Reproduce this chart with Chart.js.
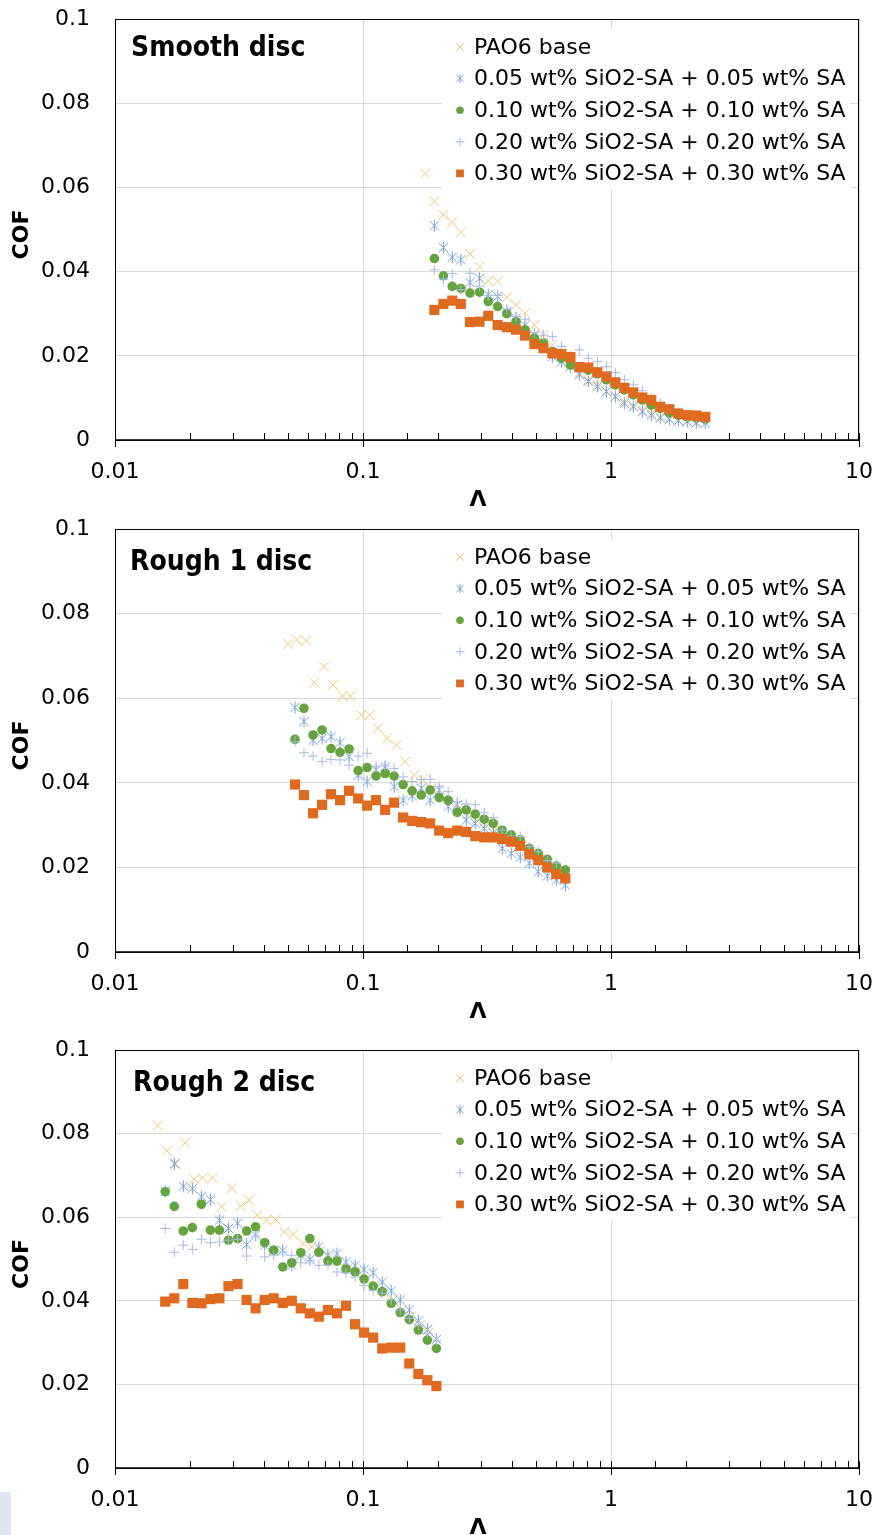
<!DOCTYPE html>
<html lang="en">
<head>
<meta charset="UTF-8">
<title>COF against lambda ratio</title>
<style>
  html, body { margin: 0; padding: 0; background: #fff; overflow: hidden; }
  canvas.panel { position: absolute; left: 0; }
  #p1 { top: 0; }
  #p2 { top: 510px; }
  #p3 { top: 1031px; }
  .corner { position: absolute; left: 0; top: 1492px; width: 11px; height: 43px; background: #dde6f1; }
</style>
</head>
<body>
<canvas id="p1" class="panel" width="877" height="520"></canvas>
<canvas id="p2" class="panel" width="877" height="522"></canvas>
<canvas id="p3" class="panel" width="877" height="517"></canvas>
<div class="corner"></div>
<script src="https://cdn.jsdelivr.net/npm/chart.js"></script>
<script>
// series names
const seriesLabels = [
    'PAO6 base',
    '0.05 wt% SiO2-SA + 0.05 wt% SA',
    '0.10 wt% SiO2-SA + 0.10 wt% SA',
    '0.20 wt% SiO2-SA + 0.20 wt% SA',
    '0.30 wt% SiO2-SA + 0.30 wt% SA'
];
const xTickLabels = ['0.01', '0.1', '1', '10'];
const yTicks = [0, 0.02, 0.04, 0.06, 0.08, 0.1];

// Smooth disc
const lamSmoothBase = [0.178, 0.194, 0.211, 0.229, 0.248, 0.270, 0.295, 0.320, 0.349, 0.380, 0.414, 0.450, 0.491, 0.534, 0.580, 0.631, 0.686, 0.745, 0.810, 0.881, 0.958, 1.041, 1.132, 1.230, 1.338, 1.454, 1.580, 1.719, 1.868, 2.031, 2.208];
const lamSmooth = [0.194, 0.211, 0.229, 0.248, 0.270, 0.295, 0.320, 0.349, 0.380, 0.414, 0.450, 0.491, 0.534, 0.580, 0.631, 0.686, 0.745, 0.810, 0.881, 0.958, 1.041, 1.132, 1.230, 1.338, 1.454, 1.580, 1.719, 1.868, 2.031, 2.208, 2.401];
const cofSmoothBase = [0.0633, 0.0567, 0.0535, 0.0517, 0.0493, 0.0442, 0.0411, 0.0378, 0.0377, 0.0339, 0.0321, 0.0301, 0.0273, 0.0250, 0.0226, 0.0206, 0.0182, 0.0159, 0.0143, 0.0131, 0.0115, 0.0103, 0.0091, 0.0081, 0.0071, 0.0063, 0.0055, 0.0049, 0.0046, 0.0044, 0.0041];
const cofSmooth005 = [0.0509, 0.0457, 0.0434, 0.0428, 0.0374, 0.0384, 0.0345, 0.0341, 0.0305, 0.0289, 0.0273, 0.0250, 0.0230, 0.0198, 0.0186, 0.0174, 0.0155, 0.0139, 0.0127, 0.0115, 0.0103, 0.0087, 0.0079, 0.0067, 0.0059, 0.0052, 0.0049, 0.0046, 0.0044, 0.0041, 0.0040];
const cofSmooth010 = [0.0431, 0.0390, 0.0365, 0.0360, 0.0349, 0.0351, 0.0329, 0.0317, 0.0300, 0.0281, 0.0262, 0.0242, 0.0230, 0.0210, 0.0194, 0.0178, 0.0174, 0.0166, 0.0157, 0.0143, 0.0131, 0.0119, 0.0107, 0.0095, 0.0083, 0.0075, 0.0065, 0.0059, 0.0055, 0.0052, 0.0049];
const cofSmooth020 = [0.0404, 0.0382, 0.0395, 0.0357, 0.0396, 0.0365, 0.0343, 0.0343, 0.0311, 0.0293, 0.0287, 0.0255, 0.0249, 0.0246, 0.0222, 0.0200, 0.0214, 0.0194, 0.0186, 0.0174, 0.0160, 0.0143, 0.0131, 0.0117, 0.0099, 0.0087, 0.0075, 0.0063, 0.0055, 0.0052, 0.0044];
const cofSmooth030 = [0.0309, 0.0323, 0.0331, 0.0323, 0.0280, 0.0281, 0.0295, 0.0273, 0.0268, 0.0262, 0.0248, 0.0228, 0.0218, 0.0206, 0.0204, 0.0197, 0.0173, 0.0172, 0.0161, 0.0151, 0.0137, 0.0124, 0.0113, 0.0101, 0.0095, 0.0079, 0.0073, 0.0063, 0.0059, 0.0058, 0.0055];

// Rough 1 disc
const lamRough1Base = [0.0500, 0.0540, 0.0589, 0.0636, 0.0696, 0.0758, 0.0826, 0.0890, 0.0985, 0.1063, 0.1148, 0.1252, 0.1365, 0.1478, 0.1611, 0.1740, 0.1891, 0.2055, 0.2233, 0.2427, 0.2637, 0.2866, 0.3114, 0.3384, 0.3677, 0.3996, 0.4342, 0.4719, 0.5128, 0.5572, 0.6055];
const lamRough1 = [0.0532, 0.0578, 0.0629, 0.0684, 0.0743, 0.0808, 0.0879, 0.0956, 0.1039, 0.1129, 0.1228, 0.1335, 0.1451, 0.1578, 0.1716, 0.1865, 0.2028, 0.2205, 0.2398, 0.2607, 0.2835, 0.3082, 0.3350, 0.3642, 0.3960, 0.4305, 0.4681, 0.5089, 0.5534, 0.6016, 0.6541];
const cofRough1Base = [0.0728, 0.0738, 0.0736, 0.0637, 0.0675, 0.0631, 0.0605, 0.0605, 0.0560, 0.0560, 0.0529, 0.0505, 0.0489, 0.0450, 0.0418, 0.0407, 0.0387, 0.0371, 0.0355, 0.0340, 0.0324, 0.0312, 0.0300, 0.0287, 0.0273, 0.0261, 0.0249, 0.0237, 0.0224, 0.0210, 0.0195];
const cofRough1005 = [0.0578, 0.0545, 0.0501, 0.0505, 0.0509, 0.0495, 0.0462, 0.0418, 0.0403, 0.0430, 0.0438, 0.0391, 0.0359, 0.0369, 0.0387, 0.0359, 0.0383, 0.0344, 0.0348, 0.0312, 0.0304, 0.0292, 0.0281, 0.0245, 0.0233, 0.0224, 0.0210, 0.0190, 0.0180, 0.0170, 0.0158];
const cofRough1010 = [0.0503, 0.0576, 0.0513, 0.0525, 0.0481, 0.0472, 0.0480, 0.0429, 0.0436, 0.0416, 0.0422, 0.0416, 0.0396, 0.0381, 0.0371, 0.0383, 0.0365, 0.0359, 0.0330, 0.0336, 0.0326, 0.0314, 0.0304, 0.0288, 0.0277, 0.0265, 0.0245, 0.0233, 0.0219, 0.0203, 0.0194];
const cofRough1020 = [0.0497, 0.0471, 0.0463, 0.0450, 0.0455, 0.0454, 0.0442, 0.0463, 0.0470, 0.0438, 0.0440, 0.0434, 0.0414, 0.0403, 0.0408, 0.0408, 0.0391, 0.0379, 0.0355, 0.0350, 0.0348, 0.0329, 0.0318, 0.0288, 0.0274, 0.0273, 0.0249, 0.0237, 0.0216, 0.0210, 0.0174];
const cofRough1030 = [0.0396, 0.0371, 0.0328, 0.0348, 0.0373, 0.0359, 0.0381, 0.0363, 0.0346, 0.0359, 0.0336, 0.0353, 0.0318, 0.0310, 0.0307, 0.0304, 0.0287, 0.0281, 0.0287, 0.0284, 0.0274, 0.0271, 0.0271, 0.0267, 0.0261, 0.0251, 0.0231, 0.0217, 0.0200, 0.0184, 0.0174];

// Rough 2 disc
const lamRough2Base = [0.01485, 0.01619, 0.01759, 0.01918, 0.02084, 0.02252, 0.02470, 0.02694, 0.02954, 0.03210, 0.03468, 0.03748, 0.04086, 0.04442, 0.04827, 0.05231, 0.05737, 0.06197, 0.06737, 0.07318, 0.07980, 0.08675, 0.09460, 0.1028, 0.1117, 0.1214, 0.1320, 0.1439, 0.1564, 0.1700, 0.1848];
const lamRough2 = [0.01594, 0.01734, 0.01885, 0.02050, 0.02230, 0.02425, 0.02637, 0.02868, 0.03119, 0.03392, 0.03690, 0.04013, 0.04363, 0.04746, 0.05161, 0.05613, 0.06104, 0.06638, 0.07220, 0.07851, 0.08539, 0.09292, 0.1010, 0.1099, 0.1195, 0.1300, 0.1413, 0.1537, 0.1672, 0.1818, 0.1977];
const cofRough2Base = [0.0820, 0.0759, 0.0728, 0.0778, 0.0691, 0.0694, 0.0694, 0.0625, 0.0669, 0.0626, 0.0641, 0.0605, 0.0593, 0.0594, 0.0565, 0.0559, 0.0537, 0.0529, 0.0521, 0.0505, 0.0493, 0.0477, 0.0465, 0.0451, 0.0435, 0.0418, 0.0402, 0.0379, 0.0362, 0.0342, 0.0324];
const cofRough2005 = [0.0662, 0.0728, 0.0674, 0.0669, 0.0649, 0.0642, 0.0593, 0.0573, 0.0586, 0.0535, 0.0557, 0.0533, 0.0521, 0.0520, 0.0485, 0.0509, 0.0499, 0.0529, 0.0509, 0.0513, 0.0493, 0.0485, 0.0475, 0.0467, 0.0445, 0.0424, 0.0402, 0.0378, 0.0352, 0.0331, 0.0308];
const cofRough2010 = [0.0661, 0.0626, 0.0567, 0.0575, 0.0631, 0.0569, 0.0569, 0.0545, 0.0549, 0.0567, 0.0577, 0.0539, 0.0521, 0.0481, 0.0491, 0.0515, 0.0549, 0.0516, 0.0495, 0.0495, 0.0476, 0.0469, 0.0452, 0.0435, 0.0422, 0.0394, 0.0372, 0.0355, 0.0330, 0.0306, 0.0286];
const cofRough2020 = [0.0573, 0.0516, 0.0533, 0.0523, 0.0547, 0.0539, 0.0541, 0.0545, 0.0547, 0.0507, 0.0555, 0.0505, 0.0509, 0.0517, 0.0509, 0.0491, 0.0497, 0.0485, 0.0485, 0.0469, 0.0467, 0.0457, 0.0437, 0.0425, 0.0418, 0.0402, 0.0378, 0.0358, 0.0342, 0.0322, 0.0304];
const cofRough2030 = [0.0398, 0.0406, 0.0440, 0.0395, 0.0394, 0.0404, 0.0406, 0.0435, 0.0440, 0.0402, 0.0382, 0.0402, 0.0406, 0.0395, 0.0400, 0.0382, 0.0370, 0.0362, 0.0378, 0.0370, 0.0388, 0.0344, 0.0324, 0.0312, 0.0286, 0.0288, 0.0288, 0.0250, 0.0225, 0.0210, 0.0196];

const FONT = "'DejaVu Sans', sans-serif";
const COND = "'DejaVu Sans Condensed', 'DejaVu Sans', sans-serif";
const colors = ['#F2C46E', '#6F9FD8', '#67A33F', '#A7BAE4', '#E06A1F'];

// asterisk marker: an x with a vertical stroke
function asterisk(color, r) {
    const c = document.createElement('canvas');
    const s = Math.ceil(r * 2 + 3);
    c.width = c.height = s;
    const g = c.getContext('2d');
    const m = s / 2, d = r * 0.78;
    g.strokeStyle = color;
    g.lineWidth = 1;
    g.beginPath();
    g.moveTo(m - d, m - d); g.lineTo(m + d, m + d);
    g.moveTo(m - d, m + d); g.lineTo(m + d, m - d);
    g.moveTo(m, m - r); g.lineTo(m, m + r);
    g.stroke();
    return c;
}
const starBig = asterisk(colors[1], 6);
const starSmall = asterisk(colors[1], 4.5);

const markers = [
    { pointStyle: 'crossRot', radius: 7, legendRadius: 5.5, borderWidth: 1 },
    { pointStyle: starBig, legendStyle: starSmall, radius: 6, legendRadius: 5, borderWidth: 1 },
    { pointStyle: 'circle', radius: 4.8, legendRadius: 3.8, borderWidth: 0 },
    { pointStyle: 'cross', radius: 5, legendRadius: 4.5, borderWidth: 1 },
    { pointStyle: 'rect', radius: 7.2, legendRadius: 5.5, borderWidth: 0 }
];

function isDecade(v) {
    const l = Math.log10(v);
    return Math.abs(l - Math.round(l)) < 1e-6;
}

function points(xs, ys) {
    return xs.map((x, i) => ({ x: x, y: ys[i] }));
}

function buildDatasets(lamBase, lamMix, cofs) {
    return cofs.map((ys, i) => ({
        label: seriesLabels[i],
        data: points(i === 0 ? lamBase : lamMix, ys),
        pointStyle: markers[i].pointStyle,
        pointRadius: markers[i].radius,
        pointBorderWidth: markers[i].borderWidth,
        pointBackgroundColor: colors[i],
        pointBorderColor: colors[i],
        showLine: false,
        order: 5 - i
    }));
}

// frame, log ticks, legend box, panel title and axis titles
const panelDecor = {
    id: 'panelDecor',
    afterDatasetsDraw(chart, args, opts) {
        const { ctx, chartArea: a } = chart;
        const xs = chart.scales.x;
        ctx.save();

        // legend
        ctx.fillStyle = '#fff';
        ctx.fillRect(442, a.top + 10.5, 408, 160);
        ctx.font = '22px ' + FONT;
        ctx.textBaseline = 'middle';
        ctx.textAlign = 'left';
        chart.data.datasets.forEach((ds, i) => {
            const y = a.top + 28 + i * 31.6;
            ctx.fillStyle = colors[i];
            ctx.strokeStyle = colors[i];
            ctx.lineWidth = 1;
            Chart.helpers.drawPoint(ctx, {
                pointStyle: markers[i].legendStyle || markers[i].pointStyle,
                rotation: 0,
                radius: markers[i].legendRadius,
                borderWidth: markers[i].borderWidth
            }, 460, y);
            ctx.fillStyle = '#000';
            ctx.fillText(ds.label, 474, y + 1);
        });

        // plot frame
        ctx.strokeStyle = '#000';
        ctx.lineWidth = 1;
        ctx.strokeRect(a.left + 0.5, a.top + 0.5, a.right - a.left - 1, a.bottom - a.top);
        ctx.lineWidth = 1.5;
        ctx.beginPath();
        ctx.moveTo(a.left, a.bottom);
        ctx.lineTo(a.right, a.bottom);
        ctx.stroke();

        // major and minor tick marks on the log axis
        ctx.lineWidth = 1;
        ctx.beginPath();
        xs.ticks.forEach(t => {
            const px = Math.round(xs.getPixelForValue(t.value)) + 0.5;
            ctx.moveTo(px, a.bottom - 7);
            ctx.lineTo(px, a.bottom + (isDecade(t.value) ? 7 : 0));
        });
        ctx.stroke();

        // panel title
        ctx.fillStyle = '#000';
        ctx.font = 'bold 28px ' + COND;
        ctx.textBaseline = 'alphabetic';
        ctx.fillText(opts.title, opts.titleX, a.top + opts.titleDy);

        // axis titles
        ctx.font = 'bold 22px ' + FONT;
        ctx.textAlign = 'center';
        ctx.textBaseline = 'middle';
        ctx.fillText('\u039B', 478, a.bottom + 60);
        ctx.translate(22, (a.top + a.bottom) / 2 + 5);
        ctx.rotate(-Math.PI / 2);
        ctx.fillText('COF', 0, 0);
        ctx.restore();
    }
};

function makePanel(id, title, titleX, titleDy, datasets) {
    return new Chart(document.getElementById(id), {
        type: 'scatter',
        data: { datasets: datasets },
        plugins: [panelDecor],
        options: {
            responsive: false,
            animation: false,
            events: [],
            layout: { padding: { top: 19, right: 18, bottom: 0, left: 0 }, autoPadding: false },
            plugins: {
                legend: { display: false },
                tooltip: { enabled: false },
                panelDecor: { title: title, titleX: titleX, titleDy: titleDy }
            },
            scales: {
                x: {
                    type: 'logarithmic',
                    min: 0.01,
                    max: 10,
                    afterFit: s => {
                        s.height = 80;
                        s.paddingLeft = 0;
                        s.paddingRight = 0;
                    },
                    border: { display: false },
                    grid: {
                        drawTicks: false,
                        color: c => (c.tick && isDecade(c.tick.value)) ? '#d9d9d9' : 'rgba(0,0,0,0)'
                    },
                    ticks: {
                        autoSkip: false,
                        maxRotation: 0,
                        padding: 19,
                        color: '#000',
                        font: { family: FONT, size: 22 },
                        callback: v => {
                            if (!isDecade(v)) return '';
                            return xTickLabels[Math.round(Math.log10(v)) + 2];
                        }
                    }
                },
                y: {
                    min: yTicks[0],
                    max: yTicks[yTicks.length - 1],
                    afterFit: s => {
                        s.width = 115;
                        s.paddingTop = 0;
                        s.paddingBottom = 0;
                    },
                    afterBuildTicks: s => { s.ticks = yTicks.map(v => ({ value: v })); },
                    border: { display: false },
                    grid: { drawTicks: false, color: '#d9d9d9' },
                    ticks: {
                        padding: 25,
                        color: '#000',
                        font: { family: FONT, size: 22 },
                        callback: v => String(+v.toFixed(2))
                    }
                }
            }
        }
    });
}

makePanel('p1', 'Smooth disc', 131, 37,
    buildDatasets(lamSmoothBase, lamSmooth, [cofSmoothBase, cofSmooth005, cofSmooth010, cofSmooth020, cofSmooth030]));
makePanel('p2', 'Rough 1 disc', 130, 41,
    buildDatasets(lamRough1Base, lamRough1, [cofRough1Base, cofRough1005, cofRough1010, cofRough1020, cofRough1030]));
makePanel('p3', 'Rough 2 disc', 133, 41,
    buildDatasets(lamRough2Base, lamRough2, [cofRough2Base, cofRough2005, cofRough2010, cofRough2020, cofRough2030]));
</script>
</body>
</html>
